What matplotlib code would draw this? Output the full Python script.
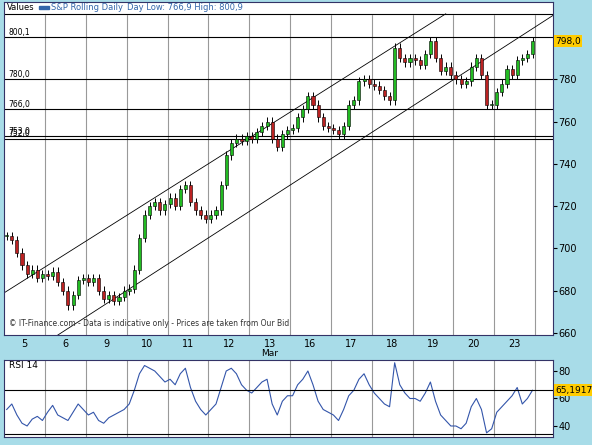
import matplotlib
matplotlib.use("Agg")
import matplotlib.pyplot as plt
from matplotlib.patches import Rectangle

days = ["5", "6", "9", "10", "11", "12", "13", "16", "17", "18", "19", "20", "23"]
closes = [
    706, 704, 698, 692, 688, 690, 686, 688,
    687, 689, 684, 680, 673, 678, 685, 686,
    684, 686, 680, 676, 678, 675, 677, 680,
    681, 690, 705, 716, 720, 722, 718, 721,
    724, 720, 728, 730, 722, 718, 716, 714,
    716, 718, 730, 744, 750, 752, 751, 753,
    752, 755, 758, 760, 752, 748, 754, 756,
    757, 762, 766, 772, 768, 762, 758, 757,
    756, 754, 758, 768, 770, 779, 780, 778,
    777, 775, 772, 770, 795, 790, 788, 790,
    789, 787, 792, 798, 790, 784, 786, 782,
    780, 778, 779, 786, 790, 782, 768, 768,
    774, 778, 785, 782, 789, 790, 792, 798,
]
wick = 2.0
rsi = [
    52, 56, 48, 42, 40, 45, 47, 44,
    50, 55, 48, 46, 44, 50, 56, 52,
    48, 50, 44, 42, 46, 48, 50, 52,
    56, 66, 78, 84, 82, 80, 76, 72,
    74, 70, 78, 82, 68, 58, 52, 48,
    52, 56, 68, 80, 82, 78, 70, 66,
    64, 68, 72, 74, 56, 48, 58, 62,
    62, 70, 74, 80, 70, 58, 52, 50,
    48, 44, 52, 62, 66, 74, 78, 70,
    64, 60, 56, 54, 86, 70, 64, 60,
    60, 58, 64, 72, 58, 48, 44, 40,
    40, 38, 42, 54, 60, 52, 35, 38,
    50, 54, 58, 62, 68, 56, 60, 66,
]
hlines = [800.1, 780.0, 766.0, 753.0, 752.0]
hlabels = ["800,1", "780,0", "766,0", "753,0", "752,0"]
last_label = "798,0"
rsi_label = "65,1917"
# channel anchors (candle index, value)
upper = [(-0.5, 679.0), (86.0, 811.0)]
lower = [(10.0, 659.0), (107.5, 811.0)]

bg = "#a8dce8"
fig = plt.figure(figsize=(5.92, 4.45), dpi=100, facecolor=bg)
ax = fig.add_axes([0.007, 0.247, 0.927, 0.749])
ax2 = fig.add_axes([0.007, 0.018, 0.927, 0.173])
n = len(closes)
per = 8
for a in (ax, ax2):
    a.set_xlim(-0.5, n + 3)
    for i in range(1, len(days) + 1):
        a.axvline(i * per - 0.5, color="#999999", lw=0.8, zorder=0)
    a.yaxis.tick_right()
    a.tick_params(axis="y", labelsize=7, length=3, pad=1)
    for s in a.spines.values():
        s.set_color("#333366")

opens = [closes[0]] + closes[:-1]
for i, (o, c) in enumerate(zip(opens, closes)):
    col = "#22bb22" if c >= o else "#bb2222"
    ax.vlines(i, min(o, c) - wick, max(o, c) + wick, color="black", lw=0.7, zorder=2)
    ax.add_patch(Rectangle((i - 0.3, min(o, c)), 0.6, max(abs(c - o), 0.4),
                           facecolor=col, edgecolor="black", lw=0.4, zorder=3))
ax.set_ylim(659, 816.7)
ax.set_yticks([660, 680, 700, 720, 740, 760, 780])
for v, lab in zip(hlines, hlabels):
    ax.axhline(v, color="black", lw=0.8, zorder=1)
    ax.text(0.3, v + 1, lab, fontsize=5.5, zorder=4)
for (x0, y0), (x1, y1) in (upper, lower):
    ax.plot([x0, x1], [y0, y1], color="black", lw=0.6, zorder=1)
ax.text(n + 3.4, closes[-1], last_label, fontsize=6.5, va="center", ha="left",
        bbox=dict(facecolor="#ffcc00", edgecolor="none", pad=1), zorder=5, clip_on=False)
ax.set_xticks([i * per + per / 2 - 0.5 for i in range(len(days))])
ax.set_xticklabels(days, fontsize=7)
ax.tick_params(axis="x", length=0, pad=3)
ax.text(6 * per + 3.5, 652.5, "Mar", fontsize=6.5, ha="center", va="top")
ax.axhline(811, color="black", lw=0.8)
ax.add_patch(Rectangle((-0.5, 811), n + 3.5, 6, color="white", zorder=0.5))
ax.text(0, 814, "Values", fontsize=6, va="center")
ax.add_patch(Rectangle((6.3, 813.3), 2, 1.2, color="#3366aa", zorder=3))
ax.text(8.7, 814, "S&P Rolling Daily", fontsize=6, va="center", color="#3366aa")
ax.text(23.5, 814, "Day Low: 766,9 High: 800,9", fontsize=6, va="center", color="#3366aa")
ax.text(0.5, 663.5, "© IT-Finance.com - Data is indicative only - Prices are taken from Our Bid",
        fontsize=5.5, color="#333333")

ax2.plot(range(n), rsi, color="#3355aa", lw=0.8)
ax2.set_ylim(32, 88)
ax2.set_yticks([40, 60, 80])
ax2.set_xticks([])
ax2.axhline(66, color="black", lw=0.8)
ax2.axhline(34, color="black", lw=0.8)
ax2.text(0.5, 82, "RSI 14", fontsize=6.5)
ax2.text(n + 3.4, rsi[-1], rsi_label, fontsize=6.5, va="center", ha="left",
         bbox=dict(facecolor="#ffcc00", edgecolor="none", pad=1), clip_on=False)
fig.savefig("out.png", dpi=100, facecolor=bg)
